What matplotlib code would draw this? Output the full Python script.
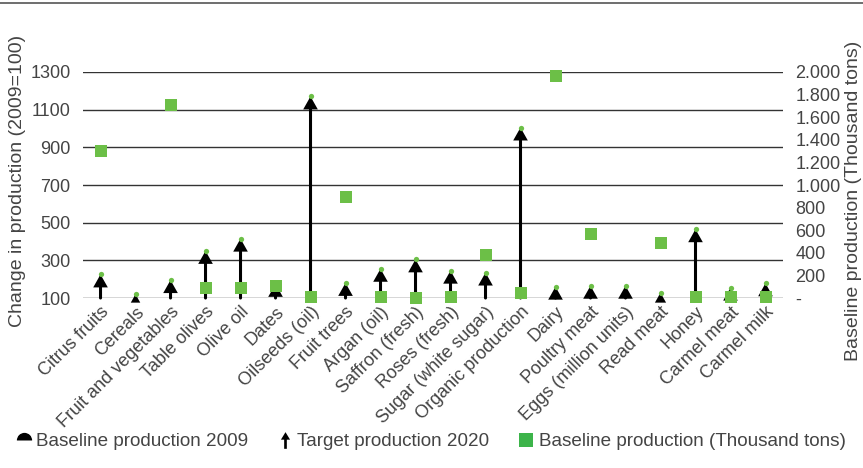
import numpy as np
import matplotlib
matplotlib.use("Agg")
import matplotlib.pyplot as plt
from matplotlib.lines import Line2D
from matplotlib.path import Path
from matplotlib.ticker import FixedLocator, FixedFormatter

categories = [
    "Citrus fruits", "Cereals", "Fruit and vegetables", "Table olives", "Olive oil",
    "Dates", "Oilseeds (oil)", "Fruit trees", "Argan (oil)", "Saffron (fresh)",
    "Roses (fresh)", "Sugar (white sugar)", "Organic production", "Dairy",
    "Poultry meat", "Eggs (million units)", "Read meat", "Honey", "Carmel meat",
    "Carmel milk",
]
# Index values (2009 = 100)
baseline_2009 = [100] * len(categories)
target_2020 = [225, 120, 195, 350, 415, 175, 1170, 180, 255, 305,
               245, 235, 1005, 160, 165, 165, 128, 465, 155, 178]
# Baseline production, thousand tons (off-scale values left empty)
baseline_tons = [1300, np.nan, 1710, 90, 85, 105, 12, 890, 12, 0,
                 12, 380, 41, 1965, 565, np.nan, 490, 6, 12, 12]

left_ticks = [100, 300, 500, 700, 900, 1100, 1300]
right_ticks = [0, 200, 400, 600, 800, 1000, 1200, 1400, 1600, 1800, 2000]
right_tick_labels = ["-", "200", "400", "600", "800", "1.000", "1.200",
                     "1.400", "1.600", "1.800", "2.000"]

plt.rcParams["font.family"] = ["Liberation Sans", "DejaVu Sans"]
TEXT = "#444444"
GREEN = "#6cbf47"
FS = 13

fig = plt.figure(figsize=(8.63, 4.68), dpi=100)
ax = fig.add_axes([0.0962, 0.3632, 0.8111, 0.4830])
x = np.arange(len(categories))

ymin, ymax = 100, 1300
ax.set_xlim(-0.5, len(categories) - 0.5)
ax.set_ylim(ymin, ymax)
for s in ax.spines.values():
    s.set_visible(False)
ax.yaxis.set_major_locator(FixedLocator(left_ticks))
ax.grid(axis="y", color="#333333", lw=1.0, zorder=0)
ax.set_axisbelow(True)
ax.tick_params(axis="both", length=0, labelsize=FS, labelcolor=TEXT)
ax.tick_params(axis="y", pad=9)
ax.set_xticks(x)
ax.set_xticklabels(categories, rotation=45, ha="right", va="top",
                   rotation_mode="anchor", fontsize=FS, color=TEXT)
ax.tick_params(axis="x", pad=4)
ax.set_ylabel("Change in production (2009=100)", fontsize=14, color=TEXT)
ax.yaxis.set_label_coords(-0.081, 0.52)

# Arrows from the 2009 baseline to the 2020 target; short arrows get a smaller head
axes_h_pt = 0.4830 * fig.get_figheight() * 72
pt_per_unit = axes_h_pt / (ymax - ymin)
head_len_pt = 6.0
for xi, b, t in zip(x, baseline_2009, target_2020):
    length_pt = (t - b) * pt_per_unit
    scale = 13 * min(1.0, length_pt / head_len_pt)
    ax.annotate("", xy=(xi, t), xytext=(xi, b),
                arrowprops=dict(arrowstyle="-|>,head_length=0.46,head_width=0.26",
                                mutation_scale=scale, lw=2.2, color="black",
                                joinstyle="miter", shrinkA=0, shrinkB=0),
                zorder=3, annotation_clip=False)
ax.plot(x, target_2020, ls="none", marker="o", markersize=3.8,
        color=GREEN, markeredgewidth=0, zorder=4, clip_on=False)

# Secondary axis: baseline production in thousand tons
ax2 = ax.twinx()
ax2.set_ylim(0, 2000)
for s in ax2.spines.values():
    s.set_visible(False)
ax2.yaxis.set_major_locator(FixedLocator(right_ticks))
ax2.yaxis.set_major_formatter(FixedFormatter(right_tick_labels))
ax2.tick_params(axis="y", length=0, pad=9, labelsize=FS, labelcolor=TEXT)
ax2.plot(x, baseline_tons, ls="none", marker="s", markersize=8.5,
         color=GREEN, markeredgewidth=0, clip_on=False, zorder=5)
ax2.set_ylabel("Baseline production (Thousand tons)", fontsize=14, color=TEXT)
ax2.yaxis.set_label_coords(1.088, 0.43)

# Top rule
fig.add_artist(Line2D([0, 1], [0.993, 0.993], transform=fig.transFigure,
                      color="#555555", lw=1.2))

arrow_path = Path([(0, 1), (0.55, 0.1), (0.16, 0.1), (0.16, -1), (-0.16, -1),
                   (-0.16, 0.1), (-0.55, 0.1), (0, 1)],
                  [Path.MOVETO] + [Path.LINETO] * 6 + [Path.CLOSEPOLY])
handles = [
    Line2D([], [], ls="none", marker="o", markersize=11, fillstyle="top",
           markerfacecolor="black", markerfacecoloralt="none", markeredgewidth=0),
    Line2D([], [], ls="none", marker=arrow_path, markersize=12, color="black",
           markeredgewidth=0),
    Line2D([], [], ls="none", marker="s", markersize=10, color="#3cb44a",
           markeredgewidth=0),
]
labels = ["Baseline production 2009", "Target production 2020",
          "Baseline production (Thousand tons)"]
fig.legend(handles, labels, loc="lower left", bbox_to_anchor=(0.009, 0.022),
           ncol=3, frameon=False, fontsize=13.6, labelcolor=TEXT,
           handlelength=0.9, handletextpad=0.2, columnspacing=1.5,
           borderaxespad=0)

fig.savefig("out.png", dpi=100)
